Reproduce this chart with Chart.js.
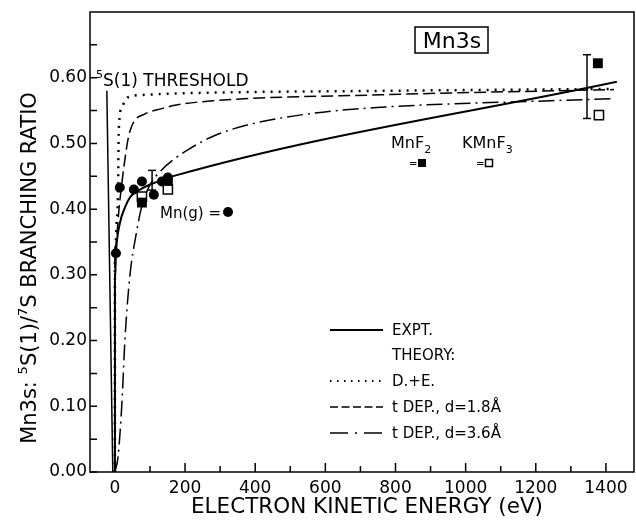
<!DOCTYPE html>
<html>
<head>
<meta charset="utf-8">
<script src="https://cdn.jsdelivr.net/npm/chart.js@4/dist/chart.umd.min.js"></script>
<style>
html,body{margin:0;padding:0;background:#fff;}
#wrap{width:636px;height:523px;}
</style>
</head>
<body>
<div id="wrap"><canvas id="c" width="636" height="523"></canvas></div>
<script>
// ---- data ----
const xMajorTicks = [0, 200, 400, 600, 800, 1000, 1200, 1400];
const xMinorTicks = [100, 300, 500, 700, 900, 1100, 1300];
const yMajorTicks = [0, 0.1, 0.2, 0.3, 0.4, 0.5, 0.6];
const yMinorTicks = [0.05, 0.15, 0.25, 0.35, 0.45, 0.55, 0.65];

const exptX = [0, 0, 3, 14, 29, 43, 66, 94, 134, 171, 1431];
const exptY = [0, 0.29, 0.333, 0.378, 0.403, 0.418, 0.428, 0.436, 0.444, 0.451, 0.594];

const deX = [0, 0, 5, 9, 11, 20, 37, 86, 171, 757, 1423];
const deY = [0, 0.333, 0.378, 0.43, 0.52, 0.555, 0.57, 0.574, 0.576, 0.58, 0.583];

const dep18X = [0, 0, 14, 37, 51, 86, 134, 171, 280, 757, 1423];
const dep18Y = [0, 0.34, 0.413, 0.505, 0.53, 0.545, 0.553, 0.558, 0.565, 0.574, 0.582];

const dep36X = [0, 9, 20, 29, 43, 60, 77, 100, 134, 171, 210, 280, 377, 566, 757, 1243, 1423];
const dep36Y = [0, 0.023, 0.105, 0.205, 0.3, 0.36, 0.405, 0.437, 0.46, 0.477, 0.491, 0.511, 0.528, 0.546, 0.555, 0.565, 0.568];

const thresholdX = [-23, -6];
const thresholdY = [0.58, 0];

const mnGasX = [3, 14, 54, 77, 111, 134, 151];
const mnGasY = [0.333, 0.433, 0.43, 0.442, 0.422, 0.442, 0.448];

const mnF2X = [77, 151, 1377];
const mnF2Y = [0.41, 0.443, 0.622];

const kmnF3X = [77, 151, 1380];
const kmnF3Y = [0.419, 0.43, 0.543];

const err1X = [106, 106];
const err1Y = [0.429, 0.459];
const err2X = [1346, 1346];
const err2Y = [0.538, 0.635];

// ---- helpers ----
const pts = (xs, ys) => xs.map((x, i) => ({x: x, y: ys[i]}));
const FONT = "'DejaVu Sans', sans-serif";

function lineDs(label, xs, ys, dash, width, interp) {
  return {
    label: label, data: pts(xs, ys), showLine: true,
    borderColor: '#000', borderWidth: width, borderDash: dash,
    pointRadius: 0, pointHoverRadius: 0, fill: false,
    cubicInterpolationMode: interp ? 'monotone' : 'default', tension: 0
  };
}

const datasets = [
  { label: 'MnF2', data: pts(mnF2X, mnF2Y), pointStyle: 'rect', pointRadius: 7,
    backgroundColor: '#000', borderColor: '#000', borderWidth: 0, showLine: false },
  { label: 'KMnF3', data: pts(kmnF3X, kmnF3Y), pointStyle: 'rect', pointRadius: 6.5,
    backgroundColor: '#fff', borderColor: '#000', borderWidth: 1.5, showLine: false },
  { label: 'Mn(g)', data: pts(mnGasX, mnGasY), pointStyle: 'circle', pointRadius: 5,
    backgroundColor: '#000', borderColor: '#000', borderWidth: 0, showLine: false },
  { label: 'err1', data: pts(err1X, err1Y), showLine: true, borderColor: '#000', borderWidth: 1.5,
    pointStyle: 'line', pointRadius: 4, pointBorderWidth: 1.5, pointBorderColor: '#000' },
  { label: 'err2', data: pts(err2X, err2Y), showLine: true, borderColor: '#000', borderWidth: 1.5,
    pointStyle: 'line', pointRadius: 4, pointBorderWidth: 1.5, pointBorderColor: '#000' },
  lineDs('EXPT.', exptX, exptY, [], 2, true),
  lineDs('D.+E.', deX, deY, [2, 6], 2.5, true),
  lineDs('t DEP., d=1.8Å', dep18X, dep18Y, [12, 5], 1.5, true),
  lineDs('t DEP., d=3.6Å', dep36X, dep36Y, [16, 5, 2, 5], 1.5, true),
  lineDs('threshold', thresholdX, thresholdY, [], 1.5, false)
];

const decor = {
  id: 'decor',
  afterDraw(chart) {
    const ctx = chart.ctx;
    const xs = chart.scales.x, ys = chart.scales.y;
    const a = chart.chartArea;
    ctx.save();
    ctx.strokeStyle = '#000';
    ctx.fillStyle = '#000';
    // frame
    ctx.lineWidth = 1.5;
    ctx.strokeRect(a.left, a.top, a.right - a.left, a.bottom - a.top);
    // inward ticks
    ctx.lineWidth = 1.5;
    ctx.beginPath();
    xMajorTicks.forEach(v => { const p = xs.getPixelForValue(v); ctx.moveTo(p, a.bottom); ctx.lineTo(p, a.bottom - 9); });
    xMinorTicks.forEach(v => { const p = xs.getPixelForValue(v); ctx.moveTo(p, a.bottom); ctx.lineTo(p, a.bottom - 6); });
    yMajorTicks.forEach(v => { const p = ys.getPixelForValue(v); ctx.moveTo(a.left, p); ctx.lineTo(a.left + 7, p); });
    yMinorTicks.forEach(v => { const p = ys.getPixelForValue(v); ctx.moveTo(a.left, p); ctx.lineTo(a.left + 7, p); });
    ctx.stroke();

    ctx.textBaseline = 'alphabetic';
    ctx.textAlign = 'left';
    // threshold label
    ctx.font = '11px ' + FONT;
    ctx.fillText('5', 96, 78);
    ctx.font = '17px ' + FONT;
    ctx.fillText('S(1) THRESHOLD', 103, 86);

    // Mn3s box
    ctx.font = '22px ' + FONT;
    ctx.textAlign = 'center';
    ctx.fillText('Mn3s', 452, 48);
    ctx.lineWidth = 1.5;
    ctx.strokeRect(415, 27, 73, 26);

    // MnF2 / KMnF3 labels
    ctx.textAlign = 'left';
    ctx.font = '16px ' + FONT;
    ctx.fillText('MnF', 391, 148);
    let w = ctx.measureText('MnF').width;
    ctx.font = '11px ' + FONT;
    ctx.fillText('2', 391 + w, 153);
    ctx.font = '16px ' + FONT;
    ctx.fillText('KMnF', 462, 148);
    w = ctx.measureText('KMnF').width;
    ctx.font = '11px ' + FONT;
    ctx.fillText('3', 462 + w, 153);
    ctx.font = '10px ' + FONT;
    ctx.fillText('=', 409, 167);
    ctx.fillText('=', 476, 167);
    ctx.fillRect(418, 159, 8, 8);
    ctx.lineWidth = 1.5;
    ctx.strokeRect(485.5, 159.5, 7, 7);

    // Mn(g) label
    ctx.font = '15px ' + FONT;
    ctx.fillText('Mn(g) =', 160, 218);
    ctx.beginPath();
    ctx.arc(228, 212, 5, 0, Math.PI * 2);
    ctx.fill();

    // legend
    const lx0 = 330, lx1 = 383, tx = 392;
    const rows = [
      {y: 330, dash: [], lw: 1.8, text: 'EXPT.'},
      {y: 355, dash: null, text: 'THEORY:'},
      {y: 381, dash: [1.5, 5.5], lw: 1.8, text: 'D.+E.'},
      {y: 407, dash: [8, 3.5], lw: 1.5, text: 't DEP., d=1.8Å'},
      {y: 433, dash: [18, 7, 2, 7], lw: 1.5, text: 't DEP., d=3.6Å'}
    ];
    ctx.font = '15px ' + FONT;
    ctx.textBaseline = 'middle';
    rows.forEach(r => {
      if (r.dash) {
        ctx.setLineDash(r.dash);
        ctx.lineWidth = r.lw;
        ctx.beginPath();
        ctx.moveTo(lx0, r.y); ctx.lineTo(lx1, r.y);
        ctx.stroke();
        ctx.setLineDash([]);
      }
      ctx.fillText(r.text, tx, r.y + 1);
    });

    // x axis title
    ctx.textBaseline = 'alphabetic';
    ctx.textAlign = 'center';
    ctx.font = '21.5px ' + FONT;
    ctx.fillText('ELECTRON KINETIC ENERGY (eV)', 367, 513);

    // y axis title with superscripts
    const parts = [
      {t: 'Mn3s: ', s: 21, dy: 0},
      {t: '5', s: 13, dy: -9},
      {t: 'S(1)/', s: 21, dy: 0},
      {t: '7', s: 13, dy: -9},
      {t: 'S BRANCHING RATIO', s: 21, dy: 0}
    ];
    let total = 0;
    parts.forEach(p => { ctx.font = p.s + 'px ' + FONT; p.w = ctx.measureText(p.t).width; total += p.w; });
    ctx.translate(36, 268);
    ctx.rotate(-Math.PI / 2);
    ctx.textAlign = 'left';
    let cx = -total / 2;
    parts.forEach(p => { ctx.font = p.s + 'px ' + FONT; ctx.fillText(p.t, cx, p.dy); cx += p.w; });
    ctx.restore();
  }
};

new Chart(document.getElementById('c'), {
  type: 'scatter',
  data: { datasets: datasets },
  options: {
    responsive: false,
    animation: false,
    devicePixelRatio: 1,
    layout: { autoPadding: false, padding: { left: 0, right: 2, top: 12, bottom: 0 } },
    plugins: { legend: { display: false }, tooltip: { enabled: false } },
    scales: {
      x: {
        type: 'linear', min: -71, max: 1480,
        afterBuildTicks: s => { s.ticks = xMajorTicks.map(v => ({value: v})); },
        afterFit: s => { s.height = 51; s.paddingLeft = 0; s.paddingRight = 0; },
        grid: { display: false, drawTicks: false },
        border: { display: false },
        ticks: { color: '#000', font: { family: FONT, size: 17 }, padding: 6,
                 maxRotation: 0, autoSkip: false, callback: v => String(v) }
      },
      y: {
        type: 'linear', min: 0, max: 0.70,
        afterBuildTicks: s => { s.ticks = yMajorTicks.map(v => ({value: v})); },
        afterFit: s => { s.width = 90; s.paddingTop = 0; s.paddingBottom = 0; },
        grid: { display: false, drawTicks: false },
        border: { display: false },
        ticks: { color: '#000', font: { family: FONT, size: 17 }, padding: 3,
                 autoSkip: false, callback: v => Number(v).toFixed(2) }
      }
    }
  },
  plugins: [decor]
});
</script>
</body>
</html>
